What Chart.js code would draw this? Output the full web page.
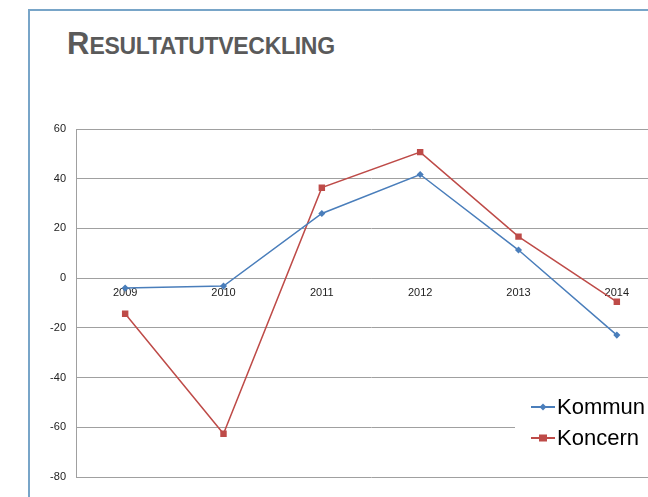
<html>
<head>
    <title>Resultatutveckling</title>
    <script src="https://cdn.jsdelivr.net/npm/chart.js"></script>
    <style>
        body {
            margin: 0;
            width: 648px;
            height: 497px;
            overflow: hidden;
            background: white;
            position: relative;
            font-family: Arial, "Liberation Sans", sans-serif;
        }

        .frame {
            position: absolute;
            left: 28px;
            top: 9px;
            width: 700px;
            height: 600px;
            border-left: 2px solid #78a5c8;
            border-top: 2px solid #78a5c8;
        }

        .title {
            position: absolute;
            left: 67px;
            top: 26px;
            color: #5a5a5a;
            font-weight: bold;
            white-space: nowrap;
        }

        .title .big {
            font-size: 31px;
        }

        .title .small {
            font-size: 23px;
            letter-spacing: -0.3px;
        }

        #chart {
            position: absolute;
            left: 0;
            top: 0;
        }
    </style>
</head>

<body>
    <div class="frame"></div>
    <div class="title"><span class="big">R</span><span class="small">ESULTATUTVECKLING</span></div>
    <canvas id="chart" width="700" height="497"></canvas>

    <script>
        var years = ["2009", "2010", "2011", "2012", "2013", "2014"];
        var kommun = [-4, -3.2, 26, 41.7, 11.3, -22.9];
        var koncern = [-14.3, -62.6, 36.4, 50.7, 16.7, -9.5];
        var yTicks = [60, 40, 20, 0, -20, -40, -60, -80];

        // legend drawn inside the plot, bottom right, on a white box
        var boxLegend = {
            id: "boxLegend",
            afterDraw: function (chart) {
                var ctx = chart.ctx;
                var area = chart.chartArea;
                var left = area.right - 151;
                var top = 385;
                ctx.save();
                ctx.fillStyle = "white";
                ctx.fillRect(left, top, chart.width - left, 85);
                ctx.font = "22px Arial, 'Liberation Sans', sans-serif";
                ctx.textBaseline = "middle";
                chart.data.datasets.forEach(function (ds, i) {
                    var y = 407 + i * 31;
                    ctx.strokeStyle = ds.borderColor;
                    ctx.lineWidth = 2;
                    ctx.beginPath();
                    ctx.moveTo(left + 16, y);
                    ctx.lineTo(left + 40, y);
                    ctx.stroke();
                    ctx.fillStyle = ds.borderColor;
                    if (ds.pointStyle === "rect") {
                        ctx.fillRect(left + 24, y - 3.5, 8, 7);
                    } else {
                        ctx.beginPath();
                        ctx.moveTo(left + 28, y - 3.5);
                        ctx.lineTo(left + 31.5, y);
                        ctx.lineTo(left + 28, y + 3.5);
                        ctx.lineTo(left + 24.5, y);
                        ctx.closePath();
                        ctx.fill();
                    }
                    ctx.fillStyle = "#000";
                    ctx.fillText(ds.label, left + 42, y + 1);
                });
                ctx.restore();
            }
        };

        new Chart(document.getElementById("chart"), {
            type: "line",
            data: {
                labels: years,
                datasets: [
                    {
                        label: "Kommun",
                        data: kommun,
                        borderColor: "#4a7ebb",
                        backgroundColor: "#4a7ebb",
                        borderWidth: 1.5,
                        pointStyle: "rectRot",
                        pointRadius: 2.5,
                        tension: 0
                    },
                    {
                        label: "Koncern",
                        data: koncern,
                        borderColor: "#be4b48",
                        backgroundColor: "#be4b48",
                        borderWidth: 1.5,
                        pointStyle: "rect",
                        pointRadius: 3.5,
                        tension: 0
                    }
                ]
            },
            options: {
                responsive: false,
                animation: false,
                layout: { padding: { left: 0, right: 34, top: 129, bottom: 20 } },
                plugins: {
                    legend: { display: false },
                    tooltip: { enabled: false }
                },
                scales: {
                    x: {
                        position: { y: 0 },
                        offset: true,
                        grid: { display: false, drawTicks: false },
                        border: { display: true, color: "#a0a0a0", width: 1 },
                        ticks: {
                            color: "#222",
                            padding: 8,
                            maxRotation: 0,
                            font: { family: "Arial, 'Liberation Sans', sans-serif", size: 11 }
                        },
                        afterFit: function (scale) { scale.height = 0; }
                    },
                    y: {
                        min: -80,
                        max: 60,
                        afterBuildTicks: function (scale) {
                            scale.ticks = yTicks.map(function (v) { return { value: v }; });
                        },
                        grid: { color: "#a0a0a0", lineWidth: 1, drawTicks: false },
                        border: { display: true, color: "#a0a0a0", width: 1 },
                        ticks: {
                            color: "#222",
                            padding: 10,
                            font: { family: "Arial, 'Liberation Sans', sans-serif", size: 11 }
                        },
                        afterFit: function (scale) { scale.width = 76; }
                    }
                }
            },
            plugins: [boxLegend]
        });
    </script>
</body>
</html>
